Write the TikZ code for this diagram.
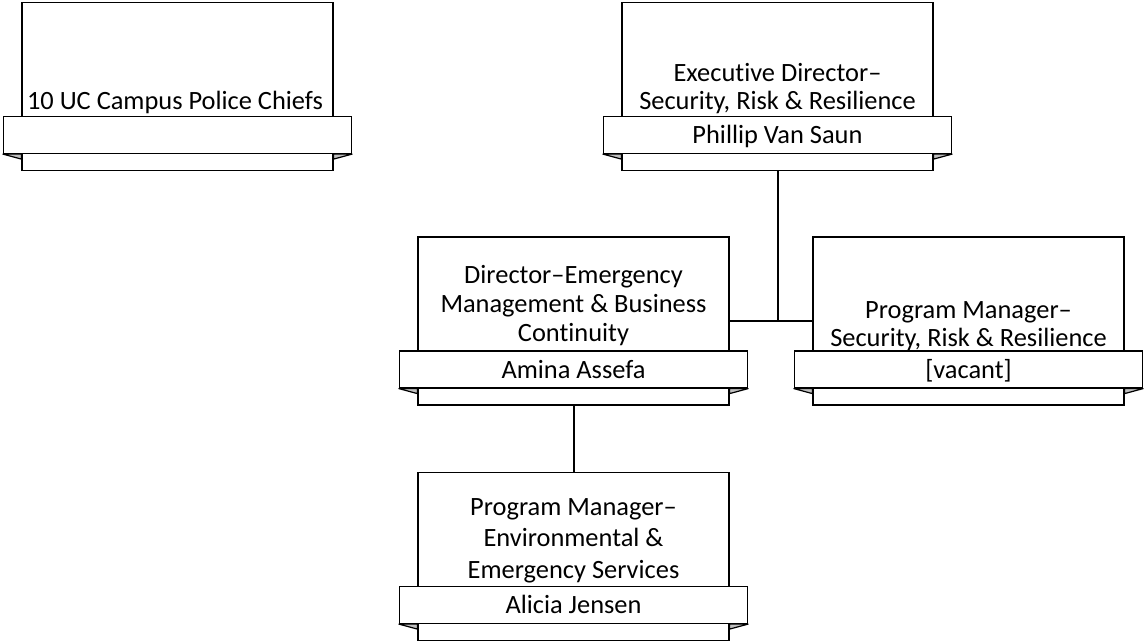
\documentclass[tikz,border=0pt]{standalone}
\usepackage{fontspec}
\setmainfont{Carlito}[Ligatures={TeX,NoCommon}]
\usetikzlibrary{positioning,calc}

\begin{document}
\begin{tikzpicture}[x=1pt,y=-1pt,
  unit/.style={draw, line width=1.2pt, fill=white, minimum width=311pt,
    minimum height=168pt, inner sep=0pt},
  banner/.style={draw, line width=1.2pt, fill=white, minimum width=348pt,
    minimum height=37pt, inner sep=0pt, text height=17pt, text depth=0pt,
    font=\fontsize{26.4}{29}\selectfont},
  title/.style={align=center, inner sep=0pt, anchor=base,
    font=\fontsize{26.4}{29}\selectfont},
  fold/.style={line width=1.2pt, fill=black!25, line join=round},
  link/.style={line width=2pt}]

  \useasboundingbox (0,0) rectangle (1146,641);

  % Boxes
  \node[unit] (police) at (177.5,86.5) {};
  \node[unit] (exec) at (777.5,86.5) {};
  \node[unit] (emdir) at (573.5,321) {};
  \node[unit] (srrpm) at (968.5,321) {};
  \node[unit] (envpm) at (573.5,556.5) {};

  % Name banners
  \node[banner, above=17pt of police.south] (policeb) {};
  \node[banner, above=17pt of exec.south] (execb) {Phillip Van Saun};
  \node[banner, above=17pt of emdir.south] (emdirb) {Amina Assefa};
  \node[banner, above=17pt of srrpm.south] (srrpmb) {[vacant]};
  \node[banner, above=17pt of envpm.south] (envpmb) {Alicia Jensen};

  % Titles (placed at the baseline of the last line)
  \node[title] (policet) at (175,109) {10 UC Campus Police Chiefs};
  \node[title, font=\fontsize{26.4}{27.5}\selectfont] (exect) at (777.5,109)
    {Executive Director--\\Security, Risk \& Resilience};
  \node[title] (emdirt) at (573.5,341) {Director--Emergency\\Management \& Business\\Continuity};
  \node[title, font=\fontsize{26.4}{27.5}\selectfont] (srrpmt) at (968.5,346)
    {Program Manager--\\Security, Risk \& Resilience};
  \node[title, font=\fontsize{26.4}{31.6}\selectfont] (envpmt) at (573.5,578.5)
    {Program Manager--\\Environmental \&\\Emergency Services};

  % Folds under the banners
  \foreach \bx in {police,exec,emdir,srrpm,envpm} {
    \filldraw[fold] (\bx b.south west) -- ($(\bx.west |- \bx b.south)+(0,-5pt)$)
      -- (\bx.west |- \bx b.south) -- cycle;
    \filldraw[fold] (\bx b.south east) -- ($(\bx.east |- \bx b.south)+(0,-5pt)$)
      -- (\bx.east |- \bx b.south) -- cycle;
  }

  % Connections
  \coordinate (split) at (exec.south |- emdir.east);
  \draw[link] (exec.south) -- (split);
  \draw[link] (emdir.east) -- (srrpm.west);
  \draw[link] (emdir.south) -- (envpm.north);

\end{tikzpicture}
\end{document}
